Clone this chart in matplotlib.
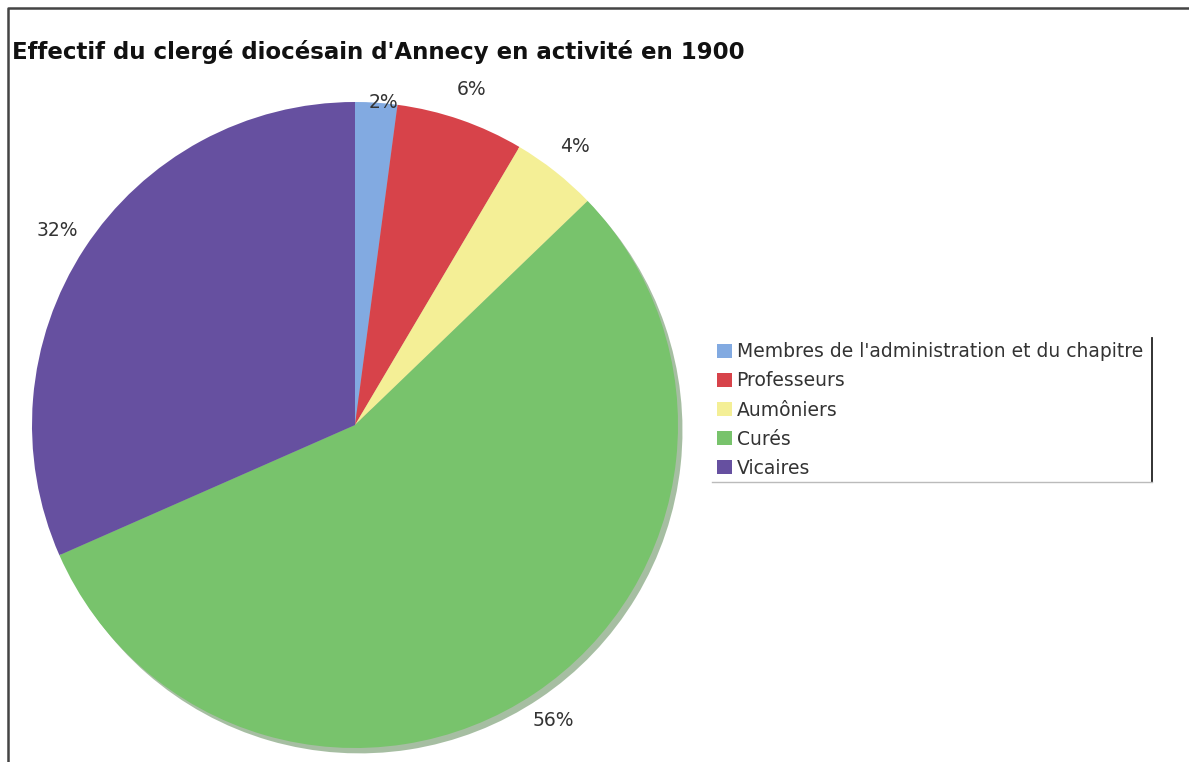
import numpy as np
import matplotlib.pyplot as plt
from matplotlib.lines import Line2D

# data (shares of the diocesan clergy, in %)
categories = ["Membres de l'administration et du chapitre", "Professeurs",
              "Aumôniers", "Curés", "Vicaires"]
shares = [2.1, 6.4, 4.3, 55.6, 31.6]
colors = ["#82AAE1", "#D7434A", "#F4EF96", "#78C36C", "#6650A0"]

W, H = 1189, 762
fig = plt.figure(figsize=(W / 100, H / 100), dpi=100)
fig.patch.set_facecolor("white")

# pie axes: centre ~ (355, 425) px, radius ~ 323 px
R = 323
cx, cy = 355, 425
ax = fig.add_axes([(cx - R) / W, (H - cy - R) / H, 2 * R / W, 2 * R / H])

wedges, texts, autotexts = ax.pie(
    shares, colors=colors, startangle=90, counterclock=False,
    autopct="%.0f%%", pctdistance=1.10,
    shadow={"ox": 0.01, "oy": -0.012, "shade": 0.35},
    wedgeprops=dict(linewidth=0),
    textprops=dict(fontsize=13.5, color="#333333"))
ax.set_xlim(-1, 1)
ax.set_ylim(-1, 1)
ax.set_aspect("equal")

# the smallest label sits closer to the rim in the original
w0 = wedges[0]
mid = np.deg2rad((w0.theta1 + w0.theta2) / 2)
autotexts[0].set_position((1.04 * np.cos(mid) + 0.02, 1.0 * np.sin(mid)))

fig.text(12 / W, 1 - 52 / H, "Effectif du clergé diocésain d'Annecy en activité en 1900",
         fontsize=16.5, fontweight="bold", color="#111111", va="center", ha="left")

leg = fig.legend(wedges, categories, loc="center left",
                 bbox_to_anchor=(700 / W, 1 - 410 / H), frameon=False,
                 fontsize=13.5, handlelength=0.8, handleheight=0.8,
                 handletextpad=0.25, labelspacing=0.54)
for t in leg.get_texts():
    t.set_color("#333333")

# legend box edges (right and bottom only) and the outer frame
fig.add_artist(Line2D([1152 / W, 1152 / W], [1 - 338 / H, 1 - 482 / H],
                      color="#222222", lw=1.3, transform=fig.transFigure))
fig.add_artist(Line2D([712 / W, 1152 / W], [1 - 482 / H, 1 - 482 / H],
                      color="#bbbbbb", lw=1.0, transform=fig.transFigure))
fig.add_artist(Line2D([8 / W, 8 / W, 1.0], [0.0, 1 - 8 / H, 1 - 8 / H],
                      color="#444444", lw=1.8, transform=fig.transFigure))

plt.savefig("out.png", dpi=100, facecolor="white")
